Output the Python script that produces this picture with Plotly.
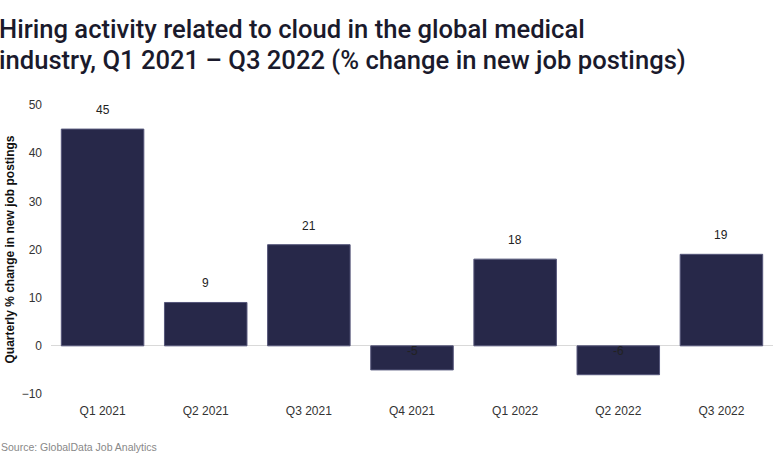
import plotly.graph_objects as go

categories = ["Q1 2021", "Q2 2021", "Q3 2021", "Q4 2021", "Q1 2022", "Q2 2022", "Q3 2022"]
values = [45, 9, 21, -5, 18, -6, 19]
y_ticks = [-10, 0, 10, 20, 30, 40, 50]

title_lines = ["Hiring activity related to cloud in the global medical",
               "industry, Q1 2021 – Q3 2022 (% change in new job postings)"]
source_text = "Source: GlobalData Job Analytics"
y_title = "Quarterly % change in new job postings"

T, B, L, R = 105, 75, 51, 0
PH = 469 - T - B

fig = go.Figure()
fig.add_trace(go.Bar(
    x=categories, y=values,
    marker=dict(color="#272849", line=dict(color="#55567a", width=1)),
    hoverinfo="x+y",
))

for c, v in zip(categories, values):
    if v >= 0:
        fig.add_annotation(x=c, y=v, text=str(v), showarrow=False,
                           yanchor="bottom", yshift=10,
                           font=dict(family="Liberation Sans, Arial", size=12, color="#222"))
    else:
        fig.add_annotation(x=c, y=0, text=str(v), showarrow=False,
                           yanchor="top", yshift=4,
                           font=dict(family="Liberation Sans, Arial", size=12, color="#222"))

# Title (two lines, tight spacing)
for i, line in enumerate(title_lines):
    top_px = 12 + 31 * i
    fig.add_annotation(x=0, y=1 + (T - top_px) / PH, xref="paper", yref="paper",
                       xanchor="left", yanchor="top", xshift=-L - 3, align="left",
                       text=line, showarrow=False,
                       font=dict(family="Roboto", size=25.6, color="#1a1a2c", weight=500))

# Source
fig.add_annotation(x=0, y=-53 / PH, xref="paper", yref="paper",
                   xanchor="left", yanchor="middle", xshift=-L - 1,
                   text=source_text, showarrow=False,
                   font=dict(family="Liberation Sans, Arial", size=10.5, color="#888"))

fig.update_layout(
    width=773, height=469,
    margin=dict(l=L, r=R, t=T, b=B),
    paper_bgcolor="white", plot_bgcolor="white",
    bargap=0.2,
    showlegend=False,
    font=dict(family="Liberation Sans, Arial", size=12, color="#333"),
)

fig.update_xaxes(showgrid=False, showline=False, ticks="", automargin=False,
                 tickfont=dict(size=12, color="#333"), ticklabelstandoff=8)
fig.update_yaxes(range=[-10, 50], tickvals=y_ticks, showgrid=False, automargin=False,
                 zeroline=True, zerolinecolor="#d9d9d9", zerolinewidth=1,
                 showline=False, ticks="", ticklabelstandoff=8,
                 tickfont=dict(size=12, color="#333"),
                 title=dict(text="<b>" + y_title + "</b>", standoff=4,
                            font=dict(size=12, color="#111")))

fig.write_html("out.html", config={"displayModeBar": False},
               post_script="document.body.style.margin='0';")
